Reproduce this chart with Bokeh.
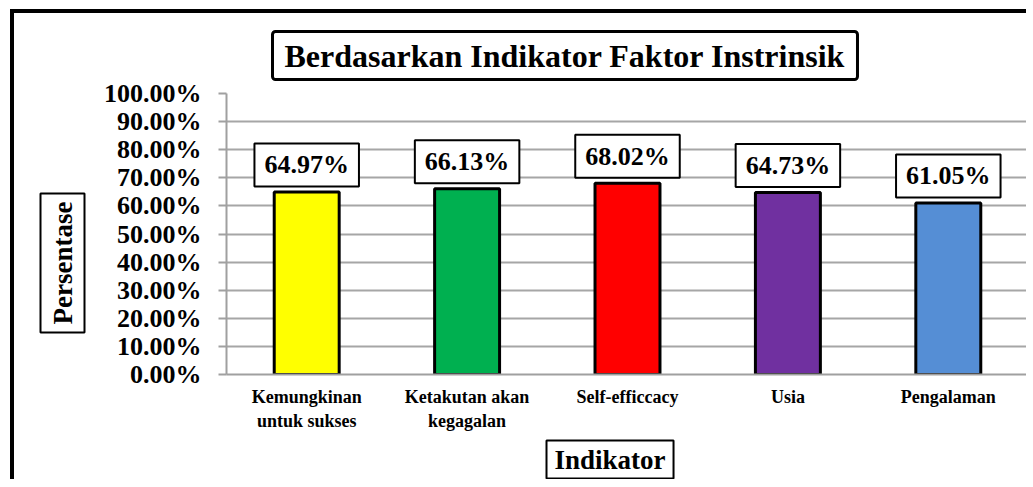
from bokeh.plotting import figure
from bokeh.models import Title, FixedTicker, PrintfTickFormatter, ColumnDataSource, FactorRange, Range1d
from bokeh.core.properties import value
from bokeh.embed import file_html
from bokeh.resources import INLINE

categories = ["Kemungkinan\nuntuk sukses", "Ketakutan akan\nkegagalan", "Self-efficcacy", "Usia", "Pengalaman"]
percentages = [64.97, 66.13, 68.02, 64.73, 61.05]
bar_colors = ["#FFFF00", "#00B050", "#FF0000", "#7030A0", "#558ED5"]
y_ticks = [0, 10, 20, 30, 40, 50, 60, 70, 80, 90, 100]
title_text = "Berdasarkan Indikator Faktor Instrinsik"
y_title = "Persentase"
x_title = "Indikator"

FONT = "Liberation Serif"

source = ColumnDataSource(dict(
    cat=categories,
    val=percentages,
    color=bar_colors,
    label=[f"{v:.2f}%" for v in percentages],
))

p = figure(
    x_range=FactorRange(*categories),
    y_range=Range1d(0, 100),
    width=1016, height=470,
    output_backend="svg", toolbar_location=None,
    min_border_left=212, min_border_right=2, min_border_top=80, min_border_bottom=108,
)
p.styles = {"border-left": "4px solid black", "border-top": "4px solid black",
            "margin-left": "10px", "margin-top": "9px"}
p.outline_line_color = None
p.background_fill_color = "white"
p.border_fill_color = "white"

p.vbar(x="cat", top="val", bottom=0, width=0.405, source=source,
       fill_color="color", line_color="black", line_width=3)

p.text(x="cat", y="val", text="label", source=source,
       text_font=value(FONT), text_font_style="bold", text_font_size="26px",
       text_align="center", text_baseline="middle", y_offset=-27,
       background_fill_color="white", border_line_color="black", border_line_width=2,
       padding=(10, 7), text_color="black")

# axes
p.xgrid.grid_line_color = None
p.ygrid.grid_line_color = "#a6a6a6"
p.ygrid.grid_line_width = 2
p.yaxis.ticker = FixedTicker(ticks=y_ticks)
p.yaxis.formatter = PrintfTickFormatter(format="%.2f%%")
p.yaxis.major_label_text_font = FONT
p.yaxis.major_label_text_font_style = "bold"
p.yaxis.major_label_text_font_size = "26px"
p.yaxis.major_label_text_color = "black"
p.yaxis.axis_line_color = "#a0a0a0"
p.yaxis.axis_line_width = 2
p.yaxis.major_tick_line_color = "#a0a0a0"
p.yaxis.major_tick_line_width = 2
p.yaxis.major_tick_out = 8
p.yaxis.major_tick_in = 0
p.yaxis.minor_tick_line_color = None
p.yaxis.major_label_standoff = 17

p.xaxis.axis_line_color = "#a0a0a0"
p.xaxis.axis_line_width = 2
p.xaxis.major_tick_line_color = None
p.xaxis.major_tick_out = 0
p.xaxis.major_tick_in = 0
p.xaxis.minor_tick_line_color = None
p.xaxis.major_label_text_font = FONT
p.xaxis.major_label_text_font_style = "bold"
p.xaxis.major_label_text_font_size = "18px"
p.xaxis.major_label_text_color = "black"
p.xaxis.major_label_standoff = 12

# boxed titles
p.add_layout(Title(text=title_text, text_font=FONT, text_font_style="bold", text_font_size="32px",
                   text_color="black", align="left", offset=46, standoff=24, vertical_align="top",
                   background_fill_color="white", border_line_color="black",
                   border_line_width=3, border_radius=3, padding=(12, 6)), "above")
p.add_layout(Title(text=y_title, text_font=FONT, text_font_style="bold", text_font_size="27px",
                   text_color="black", align="left", offset=42, standoff=24, vertical_align="top",
                   background_fill_color="white", border_line_color="black",
                   border_line_width=2, padding=(8, 7)), "left")
p.add_layout(Title(text=x_title, text_font=FONT, text_font_style="bold", text_font_size="27px",
                   text_color="black", align="left", offset=320, standoff=10,
                   background_fill_color="white", border_line_color="black",
                   border_line_width=2, padding=(8, 4)), "below")

open("out.html", "w").write(file_html(p, INLINE))
